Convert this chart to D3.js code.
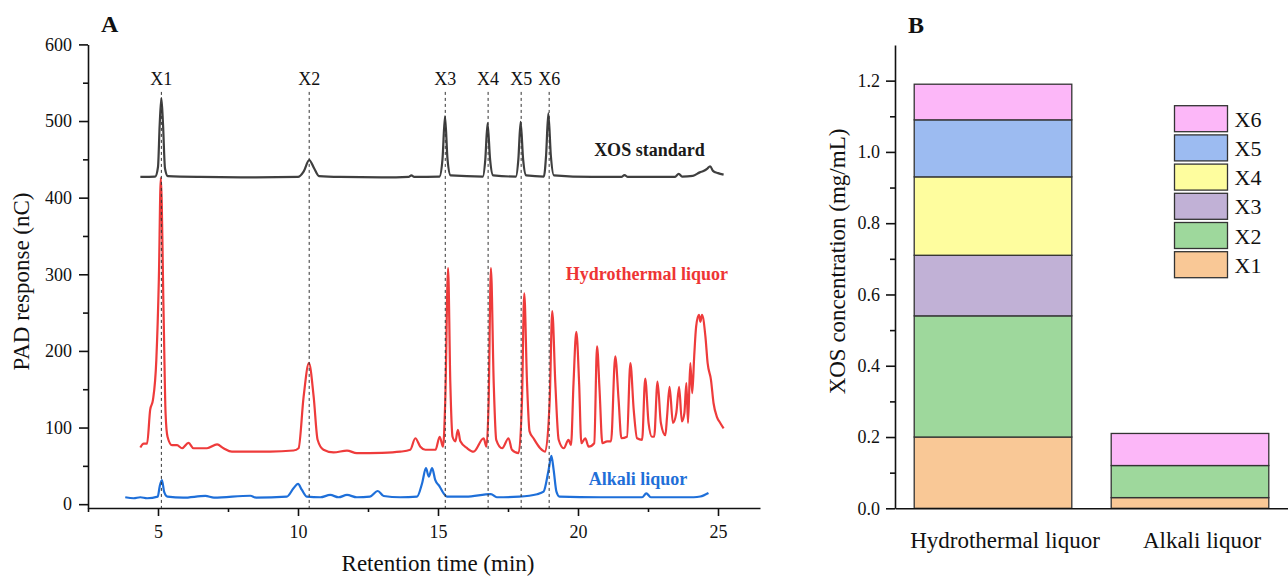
<!DOCTYPE html>
<html>
<head>
<meta charset="utf-8">
<script src="https://cdn.jsdelivr.net/npm/d3@7"></script>
<style>
  body { margin: 0; background: #fff; }
  text { font-family: "Liberation Serif", "Times New Roman", serif; fill: #111; }
  .axis path, .axis line { stroke: #111; stroke-width: 1.6; }
  .axis text { font-size: 18px; }
</style>
</head>
<body>
<div id="chart"></div>
<script>
// ---- Panel A: chromatograms, [retention time (min), PAD response (nC)] ----
const xosStandard = [
  [4.37,427],[4.9,427.5],[5.0,440],[5.06,495],[5.12,530],[5.18,495],[5.25,438],[5.35,428],
  [6.5,427],[8.5,426.5],[10.0,427],[10.2,434],[10.4,449],[10.58,438],[10.75,428],[11.5,427],
  [13.5,426.5],[13.95,427],[14.05,429],[14.15,427],[15.05,427.5],[15.16,450],[15.25,506],
  [15.34,450],[15.45,429],[16.6,427.5],[16.69,450],[16.77,497],[16.86,450],[16.97,429],
  [17.78,427.5],[17.87,450],[17.95,499],[18.04,450],[18.15,429],[18.78,427.5],[18.86,455],
  [18.94,510],[19.03,455],[19.14,429],[20.5,427],[21.55,427],[21.66,429.5],[21.78,427],
  [23.45,427],[23.6,431],[23.72,427.5],[24.1,428.5],[24.35,433],[24.5,435],[24.62,438],
  [24.72,441],[24.82,435],[25.0,432],[25.2,430]
];

const hydrothermal = [
  [4.37,74],[4.49,79],[4.61,79],[4.72,123],[4.82,136],[4.94,188],[5.03,293],[5.1,426],
  [5.2,249],[5.27,119],[5.34,88],[5.5,77],[5.68,77],[5.86,73],[6.09,80],[6.27,73],[6.75,73],
  [7.11,78],[7.34,73],[7.64,68.5],[9.0,68.5],[9.84,70],[10.02,73],[10.2,140],[10.39,184],
  [10.56,140],[10.7,84],[10.91,71],[11.27,67.5],[11.75,70],[12.1,66.5],[13.0,67],[13.65,68.5],
  [14.01,71],[14.19,86],[14.37,75],[14.55,71],[14.91,71],[15.06,88],[15.18,75],[15.26,136],
  [15.36,308],[15.44,158],[15.52,88],[15.62,82],[15.71,97],[15.8,82],[16.04,73],[16.27,68.5],
  [16.63,86],[16.73,75],[16.81,136],[16.89,308],[16.99,158],[17.08,84],[17.29,73],[17.52,86],
  [17.64,71],[17.88,66.5],[18.0,136],[18.08,275],[18.18,158],[18.27,95],[18.41,86],[18.65,73],
  [18.83,68.5],[18.99,136],[19.08,252],[19.19,158],[19.31,84],[19.49,73],[19.66,84],[19.75,77],
  [19.84,158],[19.94,225],[20.04,158],[20.12,79.5],[20.26,86],[20.38,75],[20.58,79.5],[20.68,206],
  [20.77,149],[20.87,79.5],[21.04,82],[21.18,82],[21.33,193],[21.45,136],[21.55,86],[21.75,88],
  [21.87,184],[21.99,123],[22.11,86],[22.29,84],[22.4,164],[22.52,106],[22.64,88],[22.72,88],
  [22.84,160],[22.96,106],[23.12,90],[23.18,114],[23.27,153],[23.39,106],[23.51,119],[23.61,153],
  [23.71,108],[23.8,119],[23.87,158],[23.93,106],[24.01,184],[24.08,145],[24.15,193],[24.22,232],
  [24.32,247],[24.37,238],[24.43,247],[24.55,219],[24.63,184],[24.75,162],[24.84,132],[24.96,114],
  [25.08,106],[25.2,99]
];

const alkali = [
  [3.83,9],[4.13,7.7],[4.37,9],[4.61,7.7],[4.99,9.8],[5.06,23],[5.14,31.5],[5.22,16],[5.34,9.8],
  [5.9,8.5],[6.69,10.7],[7.0,8.5],[8.3,11],[8.5,8.5],[9.6,9.8],[9.84,20.7],[10.0,26.4],[10.14,18.5],
  [10.32,9.8],[10.8,9],[11.15,12],[11.45,9],[11.75,12],[12.1,9],[12.57,9.8],[12.85,17.2],[13.06,10.7],
  [13.65,9],[14.25,9.8],[14.43,27],[14.57,47],[14.67,36],[14.79,47],[14.9,31.6],[15.06,23],[15.2,14.2],
  [15.32,9.8],[16.0,9.8],[16.89,13],[17.1,9],[17.9,9.8],[18.54,13],[18.77,16.3],[18.95,44.7],
  [19.05,63],[19.13,44.7],[19.23,16.3],[19.34,9.8],[20.8,9],[22.29,9],[22.44,14.2],[22.6,9],
  [24.13,9],[24.37,10],[24.66,14.6]
];

const peakNames = ["X1", "X2", "X3", "X4", "X5", "X6"];
const peakTimes = [5.12, 10.4, 15.26, 16.79, 17.97, 18.97];

const xTicksA = [5, 10, 15, 20, 25];
const yTicksA = [0, 100, 200, 300, 400, 500, 600];

// ---- Panel B: stacked XOS concentration (mg/mL) ----
const samples = ["Hydrothermal liquor", "Alkali liquor"];
const seriesNames = ["X1", "X2", "X3", "X4", "X5", "X6"];
const hydroValues = [0.20, 0.34, 0.17, 0.22, 0.16, 0.10];
const alkaliValues = [0.03, 0.09, 0, 0, 0, 0.09];
const yTicksB = [0, 0.2, 0.4, 0.6, 0.8, 1.0, 1.2];

const barColors = ["#f9c896", "#9ed89c", "#c1b1d6", "#fefd9e", "#9cbbf1", "#fcb7f8"];

const svg = d3.select("#chart")
  .append("svg")
  .attr("width", 1288)
  .attr("height", 579);

// ================= Panel A =================
const x = d3.scaleLinear().domain([2.5, 26.5]).range([88, 760]);
const y = d3.scaleLinear().domain([-5, 600]).range([508, 44.4]);

const gA = svg.append("g");

// minor ticks
gA.append("g")
  .attr("class", "axis")
  .attr("transform", "translate(0,508)")
  .call(d3.axisBottom(x).tickValues([2.5, 7.5, 12.5, 17.5, 22.5]).tickSize(4).tickFormat(""))
  .select(".domain").remove();
gA.append("g")
  .attr("class", "axis")
  .attr("transform", "translate(88,0)")
  .call(d3.axisLeft(y).tickValues([50, 150, 250, 350, 450, 550]).tickSize(5).tickFormat(""))
  .select(".domain").remove();

gA.append("g")
  .attr("class", "axis")
  .attr("transform", "translate(0,508)")
  .call(d3.axisBottom(x).tickValues(xTicksA).tickSize(8).tickSizeOuter(0).tickPadding(9));

gA.append("g")
  .attr("class", "axis")
  .attr("transform", "translate(88,0)")
  .call(d3.axisLeft(y).tickValues(yTicksA).tickSize(9).tickSizeOuter(0).tickPadding(7));

const line = d3.line()
  .x(d => x(d[0]))
  .y(d => y(d[1]))
  .curve(d3.curveMonotoneX);

gA.append("path").datum(hydrothermal)
  .attr("d", line).attr("fill", "none")
  .attr("stroke", "#ee3b3b").attr("stroke-width", 2.2).attr("stroke-linejoin", "round");

gA.append("path").datum(alkali)
  .attr("d", line).attr("fill", "none")
  .attr("stroke", "#1e6fd9").attr("stroke-width", 2.2).attr("stroke-linejoin", "round");

gA.append("path").datum(xosStandard)
  .attr("d", line).attr("fill", "none")
  .attr("stroke", "#3f3f3f").attr("stroke-width", 2.2).attr("stroke-linejoin", "round");

// peak markers
gA.selectAll("line.peak")
  .data(peakTimes)
  .enter()
  .append("line")
  .attr("class", "peak")
  .attr("x1", d => x(d)).attr("x2", d => x(d))
  .attr("y1", y(538)).attr("y2", 508)
  .attr("stroke", "#333").attr("stroke-width", 1)
  .attr("stroke-dasharray", "3,3");

gA.selectAll("text.peak")
  .data(peakTimes)
  .enter()
  .append("text")
  .attr("class", "peak")
  .attr("x", d => x(d))
  .attr("y", y(547.6))
  .attr("text-anchor", "middle")
  .style("font-size", "18px")
  .text((d, i) => peakNames[i]);

// trace labels
gA.append("text")
  .attr("x", x(22.55)).attr("y", y(454))
  .attr("text-anchor", "middle")
  .style("font-size", "18px").style("font-weight", "bold").style("fill", "#1a1a1a")
  .text("XOS standard");
gA.append("text")
  .attr("x", x(22.46)).attr("y", y(292.6))
  .attr("text-anchor", "middle")
  .style("font-size", "18px").style("font-weight", "bold").style("fill", "#ee3535")
  .text("Hydrothermal liquor");
gA.append("text")
  .attr("x", x(22.14)).attr("y", y(25))
  .attr("text-anchor", "middle")
  .style("font-size", "18px").style("font-weight", "bold").style("fill", "#1f6fd8")
  .text("Alkali liquor");

// axis titles
gA.append("text")
  .attr("x", 438).attr("y", 571)
  .attr("text-anchor", "middle")
  .style("font-size", "23px")
  .text("Retention time (min)");
gA.append("text")
  .attr("transform", "translate(29,281.5) rotate(-90)")
  .attr("text-anchor", "middle")
  .style("font-size", "23px")
  .text("PAD response (nC)");

svg.append("text")
  .attr("x", 101).attr("y", 32)
  .style("font-size", "24px").style("font-weight", "bold")
  .text("A");

// ================= Panel B =================
const rows = samples.map((s, i) => {
  const vals = i === 0 ? hydroValues : alkaliValues;
  const row = {sample: s};
  seriesNames.forEach((k, j) => row[k] = vals[j]);
  return row;
});

const stacked = d3.stack().keys(seriesNames)(rows);

const xB = d3.scaleBand().domain(samples).range([895, 1288])
  .paddingInner(0.2).paddingOuter(0.0975);
const yB = d3.scaleLinear().domain([0, 1.3]).range([508.3, 45]);
const color = d3.scaleOrdinal().domain(seriesNames).range(barColors);

const gB = svg.append("g");

gB.selectAll("g.layer")
  .data(stacked)
  .enter()
  .append("g")
  .attr("class", "layer")
  .attr("fill", d => color(d.key))
  .selectAll("rect")
  .data(d => d.filter(p => p[1] - p[0] > 0))
  .enter()
  .append("rect")
  .attr("x", d => xB(d.data.sample))
  .attr("width", xB.bandwidth())
  .attr("y", d => yB(d[1]))
  .attr("height", d => yB(d[0]) - yB(d[1]))
  .attr("stroke", "#333")
  .attr("stroke-width", 1.3);

gB.append("g")
  .attr("class", "axis")
  .attr("transform", "translate(895,0)")
  .call(d3.axisLeft(yB).tickValues([0.1, 0.3, 0.5, 0.7, 0.9, 1.1]).tickSize(5).tickFormat(""))
  .select(".domain").remove();

gB.append("g")
  .attr("class", "axis")
  .attr("transform", "translate(895,0)")
  .call(d3.axisLeft(yB).tickValues(yTicksB).tickSize(9).tickSizeOuter(0).tickPadding(6)
    .tickFormat(d3.format(".1f")));

const xAxisB = gB.append("g")
  .attr("class", "axis")
  .attr("transform", "translate(0,508.3)")
  .call(d3.axisBottom(xB).tickSize(0).tickSizeOuter(0).tickPadding(23));
xAxisB.selectAll("text").style("font-size", "23px").attr("dx", 12);

// legend
const legend = gB.selectAll("g.legend")
  .data(seriesNames.slice().reverse())
  .enter()
  .append("g")
  .attr("class", "legend")
  .attr("transform", (d, i) => `translate(1174.5,${105.7 + i * 29.2})`);

legend.append("rect")
  .attr("width", 53).attr("height", 26)
  .attr("fill", d => color(d))
  .attr("stroke", "#333").attr("stroke-width", 1.3);

legend.append("text")
  .attr("x", 60).attr("y", 21)
  .style("font-size", "22px")
  .text(d => d);

gB.append("text")
  .attr("transform", "translate(845,261.5) rotate(-90)")
  .attr("text-anchor", "middle")
  .style("font-size", "23px")
  .text("XOS concentration (mg/mL)");

svg.append("text")
  .attr("x", 908).attr("y", 33)
  .style("font-size", "24px").style("font-weight", "bold")
  .text("B");
</script>
</body>
</html>
